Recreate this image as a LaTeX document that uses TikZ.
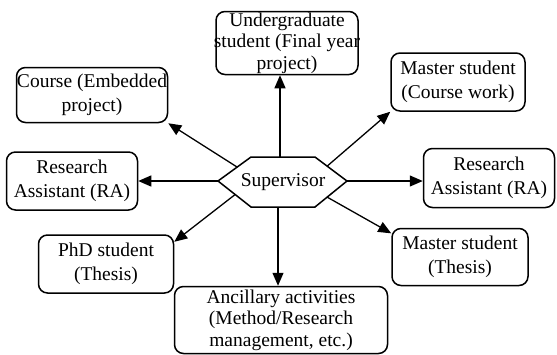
\documentclass[tikz,border=0pt]{standalone}
\usepackage{fontspec}
\setmainfont{Liberation Serif}
\usetikzlibrary{calc,arrows.meta}

\tikzset{
  box/.style={draw, line width=1.5pt, rounded corners=9pt, align=center,
    inner xsep=0pt, inner ysep=0pt, font=\fontsize{19.5}{24}\selectfont},
  tight/.style={font=\fontsize{19.5}{21.5}\selectfont},
  arr/.style={-{Triangle[length=13pt,width=11pt]}, line width=1.3pt},
}

\begin{document}
\begin{tikzpicture}[x=1pt,y=-1pt]
\useasboundingbox (0,0) rectangle (557,354);

\node[box,tight,minimum width=142pt,minimum height=63pt,inner xsep=-3pt] (ugrad) at (287,43) {Undergraduate\\student (Final year\\project)};
\node[box,minimum width=151pt,minimum height=55pt] (course) at (92,95) {Course (Embedded\\project)};
\node[box,minimum width=134pt,minimum height=58pt] (mcourse) at (458,82) {Master student\\(Course work)};
\node[box,minimum width=131pt,minimum height=58pt] (raleft) at (72,181) {Research\\Assistant (RA)};
\node[box,minimum width=131pt,minimum height=59pt] (raright) at (489,178) {Research\\Assistant (RA)};
\node[box,minimum width=135pt,minimum height=58pt] (phd) at (106,264) {PhD student\\(Thesis)};
\node[box,minimum width=136pt,minimum height=57pt] (mthesis) at (460,257) {Master student\\(Thesis)};
\node[box,tight,minimum width=213pt,minimum height=67pt] (ancil) at (281,320) {Ancillary activities\\(Method/Research\\management, etc.)};

% supervisor hexagon
\coordinate (hl) at (218,181);
\coordinate (htl) at (251,157);
\coordinate (htr) at (315,157);
\coordinate (hr) at (347,181);
\coordinate (hbr) at (315,207);
\coordinate (hbl) at (251,207);
\draw[line width=1.5pt] (hl)--(htl)--(htr)--(hr)--(hbr)--(hbl)--cycle;
\node[font=\fontsize{19.5}{24}\selectfont] (sup) at (283,182) {Supervisor};

\coordinate (htop) at (280,157);
\coordinate (hbot) at (278,207);
\coordinate (hcourse) at ($(hl)!0.58!(htl)$);
\coordinate (hmcourse) at ($(htr)!0.38!(hr)$);
\coordinate (hphd) at ($(hl)!0.52!(hbl)$);
\coordinate (hmthesis) at ($(hr)!0.62!(hbr)$);

\draw[arr] (htop)--(htop |- ugrad.south);
\draw[arr] (hbot)--(hbot |- ancil.north);
\draw[arr] (hl)--(hl -| raleft.east);
\draw[arr] (hr)--(hr -| raright.west);
\draw[arr] (hcourse)--(course.south east);
\draw[arr] (hmcourse)--(mcourse.south west);
\draw[arr] (hphd)--(phd.18);
\draw[arr] (hmthesis)--(mthesis.161);

\end{tikzpicture}
\end{document}
